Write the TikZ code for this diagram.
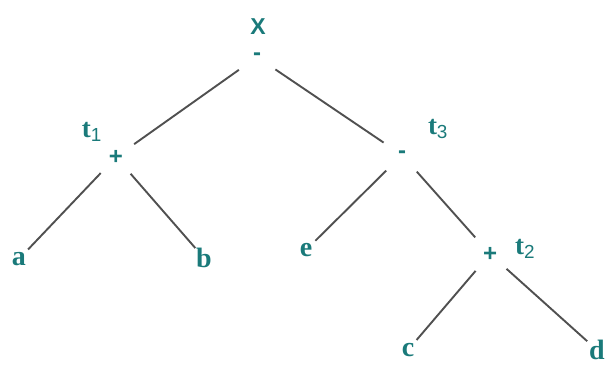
\documentclass[tikz,border=0pt]{standalone}
\usepackage{fontspec}
\setmainfont{Liberation Serif}
\newfontfamily\labelsans{Liberation Sans}
\usepackage{xcolor}
\usetikzlibrary{positioning}
\definecolor{exprteal}{RGB}{26,122,122}
\definecolor{edgegray}{RGB}{80,80,80}
\tikzset{
    exprtree/.style={x=1pt, y=-1pt, text=exprteal},
    opnode/.style={circle, minimum size=44pt, inner sep=0pt, font=\labelsans\bfseries\fontsize{24}{24}\selectfont},
    leaf/.style={circle, minimum size=26pt, inner sep=0pt, font=\bfseries\fontsize{28}{28}\selectfont},
    tag/.style={inner sep=0pt, font=\bfseries\fontsize{27}{27}\selectfont},
    branch/.style={draw=edgegray, line width=1.9pt},
}
\newcommand{\tname}[1]{t\textsubscript{\labelsans\mdseries #1}}

\begin{document}
\begin{tikzpicture}[exprtree]
    \useasboundingbox (0,0) rectangle (609,365);
    % operators
    \node[opnode] (root)  at (257,57)  {-};
    \node[opnode] (plusl) at (116,157) {+};
    \node[opnode] (minr)  at (402,155) {-};
    \node[opnode] (plusr) at (490,254) {+};
    % leaves
    \node[leaf] (a) at (19,259)  {a};
    \node[leaf] (b) at (204,258) {b};
    \node[leaf] (e) at (306,250) {e};
    \node[leaf] (c) at (408,350) {c};
    \node[leaf] (d) at (597,350) {d};
    % names of the subexpressions
    \node[tag, font=\labelsans\bfseries\fontsize{23}{23}\selectfont] (xlab) at (258,27) {X};
    \node[tag] (tone)   at (92,132)  {\tname{1}};
    \node[tag] (tthree) at (438,129) {\tname{3}};
    \node[tag] (ttwo)   at (525,249) {\tname{2}};

    \draw[branch] (root) -- (plusl);
    \draw[branch] (root) -- (minr);
    \draw[branch] (plusl) -- (a);
    \draw[branch] (plusl) -- (b);
    \draw[branch] (minr) -- (e);
    \draw[branch] (minr) -- (plusr);
    \draw[branch] (plusr) -- (c);
    \draw[branch] (plusr) -- (d);
\end{tikzpicture}
\end{document}
